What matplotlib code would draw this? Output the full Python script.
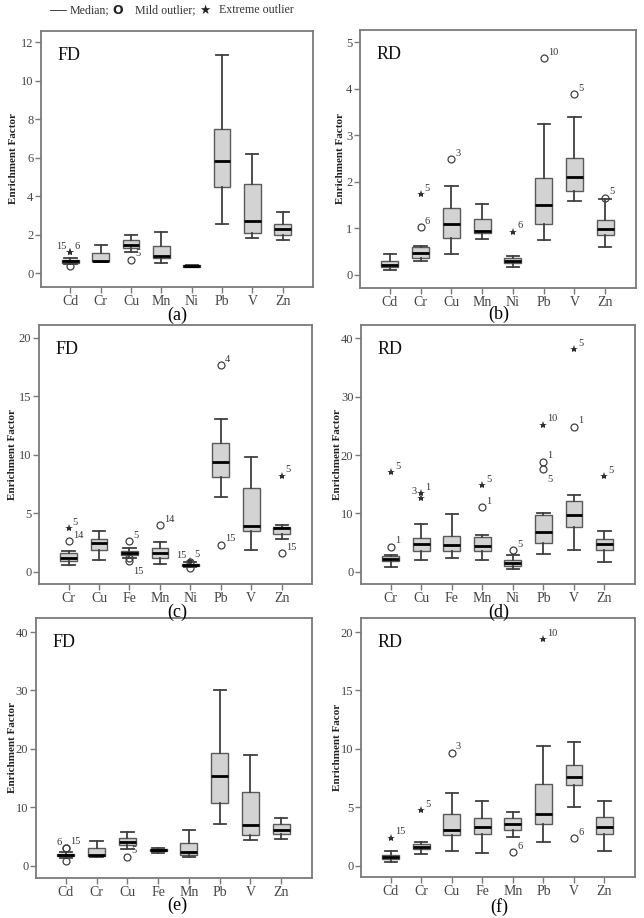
import matplotlib.pyplot as plt

plt.rcParams['font.family'] = ['Liberation Serif', 'DejaVu Sans']

# (a) FD
a_cats = ['Cd', 'Cr', 'Cu', 'Mn', 'Ni', 'Pb', 'V', 'Zn']
a_q1 = [0.55, 0.63, 1.34, 0.80, 0.35, 4.47, 2.09, 2.02]
a_med = [0.63, 0.65, 1.46, 0.89, 0.38, 5.86, 2.71, 2.30]
a_q3 = [0.70, 1.06, 1.72, 1.41, 0.42, 7.48, 4.64, 2.56]
a_lo = [0.50, 0.58, 1.13, 0.56, 0.33, 2.59, 1.83, 1.76]
a_hi = [0.80, 1.50, 2.00, 2.16, 0.45, 11.37, 6.23, 3.22]
a_out_cat = ['Cd', 'Cd', 'Cd', 'Cu']
a_out_val = [1.10, 1.10, 0.37, 0.71]
a_out_kind = ['*', '*', 'o', 'o']
a_out_lab = ['15', '6', '', '5']
a_lab_side = ['l', 'r', 'r', 'r']

# (b) RD
b_cats = ['Cd', 'Cr', 'Cu', 'Mn', 'Ni', 'Pb', 'V', 'Zn']
b_q1 = [0.17, 0.37, 0.80, 0.90, 0.25, 1.10, 1.81, 0.85]
b_med = [0.22, 0.47, 1.09, 0.95, 0.30, 1.50, 2.10, 0.98]
b_q3 = [0.29, 0.61, 1.44, 1.20, 0.37, 2.08, 2.52, 1.17]
b_lo = [0.11, 0.29, 0.45, 0.77, 0.18, 0.74, 1.58, 0.61]
b_hi = [0.45, 0.62, 1.90, 1.53, 0.41, 3.25, 3.39, 1.63]
b_out_cat = ['Cr', 'Cr', 'Cu', 'Ni', 'Pb', 'V', 'Zn']
b_out_val = [1.02, 1.74, 2.49, 0.93, 4.66, 3.88, 1.66]
b_out_kind = ['o', '*', 'o', '*', 'o', 'o', 'o']
b_out_lab = ['6', '5', '3', '6', '10', '5', '5']
b_lab_side = ['r'] * 7

# (c) FD
c_cats = ['Cr', 'Cu', 'Fe', 'Mn', 'Ni', 'Pb', 'V', 'Zn']
c_q1 = [0.91, 1.89, 1.40, 1.14, 0.50, 8.14, 3.51, 3.20]
c_med = [1.20, 2.43, 1.60, 1.57, 0.60, 9.40, 3.94, 3.71]
c_q3 = [1.57, 2.77, 1.77, 2.03, 0.68, 10.97, 7.17, 3.86]
c_lo = [0.57, 1.03, 1.20, 0.63, 0.40, 6.43, 1.83, 2.83]
c_hi = [1.77, 3.51, 2.00, 2.54, 0.80, 13.06, 9.83, 4.00]
c_out_cat = ['Cr', 'Cr', 'Fe', 'Fe', 'Fe', 'Mn', 'Ni', 'Ni', 'Ni', 'Pb', 'Pb', 'Zn', 'Zn']
c_out_val = [2.63, 3.71, 2.60, 1.20, 0.91, 4.00, 0.95, 0.85, 0.30, 17.66, 2.31, 8.20, 1.60]
c_out_kind = ['o', '*', 'o', 'o', 'o', 'o', '*', 'o', 'o', 'o', 'o', '*', 'o']
c_out_lab = ['14', '5', '5', '', '15', '14', '5', '15', '', '4', '15', '5', '15']
c_lab_side = ['r', 'r', 'r', 'r', 'br', 'r', 'r', 'l', 'r', 'r', 'r', 'r', 'r']

# (d) RD
d_cats = ['Cr', 'Cu', 'Fe', 'Mn', 'Ni', 'Pb', 'V', 'Zn']
d_q1 = [1.83, 3.54, 3.54, 3.54, 1.03, 4.91, 7.71, 3.66]
d_med = [2.11, 4.69, 4.57, 4.46, 1.49, 6.80, 9.71, 4.69]
d_q3 = [2.69, 5.71, 6.17, 6.00, 2.00, 9.77, 12.11, 5.66]
d_lo = [0.80, 1.94, 2.29, 2.06, 0.51, 3.03, 3.71, 1.60]
d_hi = [2.86, 8.17, 9.83, 6.34, 2.80, 10.00, 13.20, 6.91]
d_out_cat = ['Cr', 'Cr', 'Cu', 'Cu', 'Mn', 'Mn', 'Ni', 'Pb', 'Pb', 'Pb', 'V', 'V', 'Zn']
d_out_val = [4.29, 17.1, 13.5, 12.7, 11.09, 14.86, 3.66, 18.9, 17.6, 25.2, 24.9, 38.2, 16.4]
d_out_kind = ['o', '*', '*', '*', 'o', '*', 'o', 'o', 'o', '*', 'o', '*', '*']
d_out_lab = ['1', '5', '1', '3', '1', '5', '5', '1', '5', '10', '1', '5', '5']
d_lab_side = ['r', 'r', 'r', 'l', 'r', 'r', 'r', 'r', 'br', 'r', 'r', 'r', 'r']

# (e) FD
e_cats = ['Cd', 'Cr', 'Cu', 'Fe', 'Mn', 'Pb', 'V', 'Zn']
e_q1 = [1.60, 1.65, 3.59, 2.55, 1.82, 10.71, 5.19, 5.41]
e_med = [1.77, 1.82, 4.10, 2.73, 2.39, 15.38, 6.95, 6.10]
e_q3 = [2.00, 2.96, 4.67, 2.90, 3.93, 19.26, 12.54, 7.18]
e_lo = [1.40, 1.42, 2.90, 2.25, 1.42, 7.18, 4.33, 4.50]
e_hi = [2.30, 4.20, 5.75, 3.05, 6.04, 30.09, 18.97, 8.09]
e_out_cat = ['Cd', 'Cd', 'Cd', 'Cu']
e_out_val = [3.0, 3.1, 0.85, 1.54]
e_out_kind = ['o', 'o', 'o', 'o']
e_out_lab = ['6', '15', '', '5']
e_lab_side = ['l', 'r', 'r', 'r']

# (f) RD
f_cats = ['Cd', 'Cr', 'Cu', 'Fe', 'Mn', 'Pb', 'V', 'Zn']
f_q1 = [0.57, 1.40, 2.59, 2.68, 3.05, 3.59, 6.89, 2.68]
f_med = [0.74, 1.60, 3.10, 3.33, 3.59, 4.39, 7.61, 3.33]
f_q3 = [0.91, 1.82, 4.42, 4.10, 4.07, 6.98, 8.58, 4.19]
f_lo = [0.28, 1.00, 1.28, 1.08, 2.42, 1.99, 5.01, 1.28]
f_hi = [1.28, 1.99, 6.21, 5.50, 4.64, 10.26, 10.60, 5.53]
f_out_cat = ['Cd', 'Cr', 'Cu', 'Mn', 'Pb', 'V']
f_out_val = [2.39, 4.76, 9.66, 1.14, 19.37, 2.34]
f_out_kind = ['*', '*', 'o', 'o', '*', 'o']
f_out_lab = ['15', '5', '3', '6', '10', '6']
f_lab_side = ['r'] * 6

GRAY = '#7a7a7a'
offsets = {'r': (3, 1, 'left'), 'l': (-3, 1, 'right'), 'br': (3, -11, 'left')}


def draw(ax, cats, q1, med, q3, lo, hi, ocat, oval, okind, olab, oside,
         ylim, yticks, tag, ylabel, labx):
    stats = []
    for a, m, b, l, h in zip(q1, med, q3, lo, hi):
        stats.append(dict(med=m, q1=a, q3=b, whislo=l, whishi=h, fliers=[]))
    pos = list(range(1, len(cats) + 1))
    ax.bxp(stats, positions=pos, widths=0.55, capwidths=0.4, patch_artist=True,
           showfliers=False,
           boxprops=dict(facecolor='#d3d3d3', edgecolor='#5a5a5a', linewidth=1.0),
           whiskerprops=dict(color='#404040', linewidth=1.3),
           capprops=dict(color='#404040', linewidth=1.3),
           medianprops=dict(color='black', linewidth=2.0))

    # outliers
    for c, v, k, lab, side in zip(ocat, oval, okind, olab, oside):
        x = cats.index(c) + 1
        if k == 'o':
            ax.plot(x, v, 'o', mfc='none', mec='#404040', ms=5, mew=0.9)
        else:
            ax.plot(x, v, '*', color='#303030', ms=6, mew=0)
        if lab:
            dx, dy, ha = offsets[side]
            ax.annotate(lab, (x, v), xytext=(dx, dy), textcoords='offset points',
                        fontsize=7.5, color='#333333', ha=ha, va='bottom')

    ax.set_xlim(0.03, 9.0)
    ax.set_ylim(ylim)
    ax.set_yticks(yticks)
    ax.set_xticks(pos, cats)
    for s in ax.spines.values():
        s.set_color(GRAY)
        s.set_linewidth(1.3)
    ax.tick_params(axis='both', length=4, width=1, pad=1.5,
                   color=GRAY, labelcolor='#444444')
    ax.tick_params(axis='y', labelsize=9)
    ax.tick_params(axis='x', labelsize=10)
    ax.set_ylabel(ylabel, fontsize=8, fontweight='bold', color='#222222')
    ax.yaxis.set_label_coords(labx, 0.5)
    ax.text(0.06, 0.905, tag, transform=ax.transAxes, fontsize=13,
            va='center', ha='left', color='#111111')


fig = plt.figure(figsize=(6.44, 9.18), dpi=100)

ax_a = fig.add_axes([0.0637, 0.6874, 0.4224, 0.2789])
ax_b = fig.add_axes([0.5590, 0.6863, 0.4286, 0.2810])
ax_c = fig.add_axes([0.0606, 0.3638, 0.4240, 0.2821])
ax_d = fig.add_axes([0.5606, 0.3638, 0.4255, 0.2821])
ax_e = fig.add_axes([0.0559, 0.0436, 0.4286, 0.2832])
ax_f = fig.add_axes([0.5606, 0.0447, 0.4255, 0.2821])

draw(ax_a, a_cats, a_q1, a_med, a_q3, a_lo, a_hi, a_out_cat, a_out_val, a_out_kind,
     a_out_lab, a_lab_side, (-0.7, 12.6), range(0, 13, 2), 'FD', 'Enrichment Factor', -0.085)
draw(ax_b, b_cats, b_q1, b_med, b_q3, b_lo, b_hi, b_out_cat, b_out_val, b_out_kind,
     b_out_lab, b_lab_side, (-0.28, 5.26), range(0, 6), 'RD', 'Enrichment Factor', -0.054)
draw(ax_c, c_cats, c_q1, c_med, c_q3, c_lo, c_hi, c_out_cat, c_out_val, c_out_kind,
     c_out_lab, c_lab_side, (-1.05, 21.1), range(0, 21, 5), 'FD', 'Enrichment Factor', -0.081)
draw(ax_d, d_cats, d_q1, d_med, d_q3, d_lo, d_hi, d_out_cat, d_out_val, d_out_kind,
     d_out_lab, d_lab_side, (-2.1, 42.3), range(0, 41, 10), 'RD', 'Enrichment Factor', -0.069)
draw(ax_e, e_cats, e_q1, e_med, e_q3, e_lo, e_hi, e_out_cat, e_out_val, e_out_kind,
     e_out_lab, e_lab_side, (-2.1, 42.4), range(0, 41, 10), 'FD', 'Enrichment Factor', -0.069)
draw(ax_f, f_cats, f_q1, f_med, f_q3, f_lo, f_hi, f_out_cat, f_out_val, f_out_kind,
     f_out_lab, f_lab_side, (-0.96, 21.2), range(0, 21, 5), 'RD', 'Enrichment Facor', -0.069)

# panel letters
for x, y, t in [(177, 315, '(a)'), (499, 314, '(b)'), (177, 612, '(c)'),
                (499, 612, '(d)'), (177, 905, '(e)'), (499, 907, '(f)')]:
    fig.text(x / 644, 1 - y / 918, t, fontsize=13, ha='center', va='center')

# legend line at the top
ly = 1 - 10 / 918
fig.text(57 / 644, ly, '—', fontsize=12, fontweight='bold', ha='center',
         va='center', color='#222222')
fig.text(70 / 644, ly, 'Median;', fontsize=8.6, va='center', color='#333333')
fig.text(118 / 644, ly, 'O', fontsize=9, fontweight='bold', ha='center', va='center',
         family='DejaVu Sans', color='#222222')
fig.text(135 / 644, ly, 'Mild outlier;', fontsize=8.6, va='center', color='#333333')
fig.text(205 / 644, ly, '★', fontsize=9, ha='center', va='center',
         family='DejaVu Sans', color='#222222')
fig.text(219 / 644, ly, 'Extreme outlier', fontsize=8.6, va='center', color='#333333')

fig.savefig('out.png', dpi=100)
